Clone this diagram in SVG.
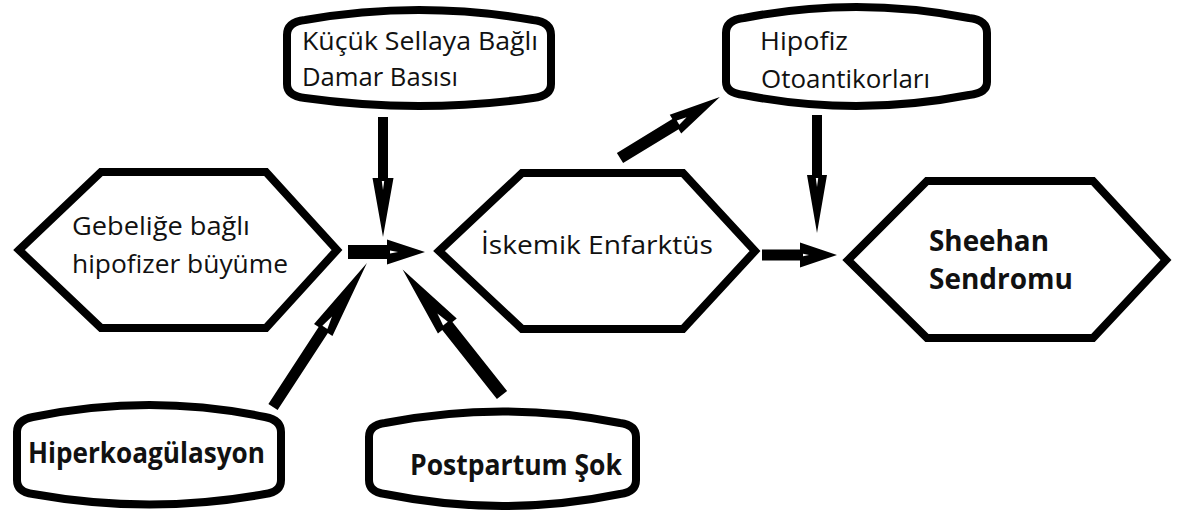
<svg xmlns="http://www.w3.org/2000/svg" width="1181" height="513" viewBox="0 0 1181 513">
<style>
.shape{fill:#fff;stroke:#000;stroke-width:8;stroke-linejoin:miter}
.rbox{fill:#fff;stroke:#000;stroke-width:8;stroke-linejoin:round}
.t{font-family:"Open Sans","Noto Sans","DejaVu Sans",sans-serif;font-size:26px;fill:#111}
.b{font-family:"Open Sans","Noto Sans","DejaVu Sans",sans-serif;font-size:29px;font-weight:bold;fill:#111}
.arr{fill:#000}
.notch{fill:#fff}
</style>
<rect width="1181" height="513" fill="#fff"/>
<g id="connectors">
  <g transform="translate(383,117) rotate(90)"><polygon class="arr" points="0,-5 61,-5 61,-10.5 120,0 61,10.5 61,5 0,5"/><polygon class="notch" points="64,-1.2 73,0 64,1.2"/></g>
  <g transform="translate(348,252)"><polygon class="arr" points="0,-7 39,-7 39,-12.5 77,0 39,12.5 39,7 0,7"/><polygon class="notch" points="42,-1.5 50,0 42,1.5"/></g>
  <g transform="translate(273,407) rotate(-56.9)"><polygon class="arr" points="0,-5.5 92,-5.5 92,-11 172,0 92,11 92,5.5 0,5.5"/><polygon class="notch" points="95,-3 108,0 95,3"/></g>
  <g transform="translate(502,395) rotate(-128.4)"><polygon class="arr" points="0,-6.5 88,-6.5 88,-12 160,0 88,12 88,6.5 0,6.5"/><polygon class="notch" points="91,-3 104,0 91,3"/></g>
  <g transform="translate(620,158) rotate(-31.4)"><polygon class="arr" points="0,-6 65,-6 65,-11 117,0 65,11 65,6 0,6"/><polygon class="notch" points="68,-2.5 78,0 68,2.5"/></g>
  <g transform="translate(817,115) rotate(90)"><polygon class="arr" points="0,-5 60,-5 60,-10 118,0 60,10 60,5 0,5"/><polygon class="notch" points="63,-1.2 72,0 63,1.2"/></g>
  <g transform="translate(762,255)"><polygon class="arr" points="0,-5.5 38,-5.5 38,-12.5 75,0 38,12.5 38,5.5 0,5.5"/><polygon class="notch" points="41,-1.2 47,0 41,1.2"/></g>
</g>
<g id="node-kucuk">
  <path class="rbox" d="M287,35 Q287,22 305,20 Q419,0 533,20 Q551,22 551,35 L551,84 Q551,96 533,98 Q419,114 305,98 Q287,96 287,84 Z"/>
  <text class="t" x="302" y="50" textLength="236" lengthAdjust="spacingAndGlyphs">Küçük Sellaya Bağlı</text>
  <text class="t" x="302" y="86" textLength="156" lengthAdjust="spacingAndGlyphs">Damar Basısı</text>
</g>
<g id="node-hipofiz">
  <path class="rbox" d="M726,33 Q726,20 744,18 Q856,-4 969,18 Q987,20 987,33 L987,82 Q987,93 969,95 Q856,117 744,95 Q726,93 726,82 Z"/>
  <text class="t" x="760" y="50" textLength="88" lengthAdjust="spacingAndGlyphs">Hipofiz</text>
  <text class="t" x="761" y="88" textLength="169" lengthAdjust="spacingAndGlyphs">Otoantikorları</text>
</g>
<g id="node-gebelik">
  <polygon class="shape" points="19,250 101,172 266,172 337,250 266,328 101,328"/>
  <text class="t" x="72" y="235" textLength="178" lengthAdjust="spacingAndGlyphs">Gebeliğe bağlı</text>
  <text class="t" x="72" y="273" textLength="216" lengthAdjust="spacingAndGlyphs">hipofizer büyüme</text>
</g>
<g id="node-iskemik">
  <polygon class="shape" points="439,251 522,173 683,173 755,251 683,329 522,329"/>
  <text class="t" x="481" y="254" textLength="232" lengthAdjust="spacingAndGlyphs">İskemik Enfarktüs</text>
</g>
<g id="node-sheehan">
  <polygon class="shape" points="848,260 927,181 1093,181 1166,260 1093,338 927,338"/>
  <text class="b" x="929" y="251" textLength="120" lengthAdjust="spacingAndGlyphs">Sheehan</text>
  <text class="b" x="929" y="289" textLength="144" lengthAdjust="spacingAndGlyphs">Sendromu</text>
</g>
<g id="node-hiperkoagulasyon">
  <path class="rbox" d="M17,432 Q17,420 33,417 Q150,393 265,417 Q281,420 281,432 L281,480 Q281,492 265,494 Q150,515 33,494 Q17,492 17,480 Z"/>
  <text class="b" x="28" y="463" textLength="237" lengthAdjust="spacingAndGlyphs">Hiperkoagülasyon</text>
</g>
<g id="node-postpartum">
  <path class="rbox" d="M369,437 Q369,425 385,423 Q503,400 620,423 Q636,425 636,437 L636,480 Q636,492 620,494 Q503,518 385,494 Q369,492 369,480 Z"/>
  <text class="b" x="410" y="475" textLength="212" lengthAdjust="spacingAndGlyphs">Postpartum Şok</text>
</g>
</svg>
